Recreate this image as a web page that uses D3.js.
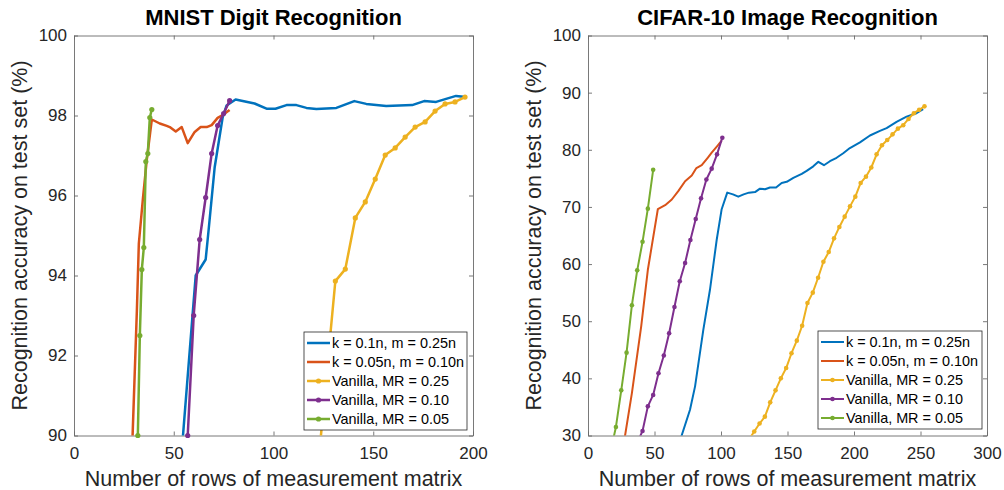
<!DOCTYPE html>
<html>
<head>
<meta charset="utf-8">
<script src="https://cdn.jsdelivr.net/npm/d3@7"></script>
<style>
  body { margin: 0; background: #fff; }
  svg { font-family: 'Liberation Sans', Arial, sans-serif; }
</style>
</head>
<body>
<div id="chart"></div>
<script>
// ---- data ----
let legendLabels = ['k = 0.1n, m = 0.25n', 'k = 0.05n, m = 0.10n', 'Vanilla, MR = 0.25', 'Vanilla, MR = 0.10', 'Vanilla, MR = 0.05']
let colors = ['#0072BD', '#D95319', '#EDB120', '#7E2F8E', '#77AC30']
let hasMarker = [false, false, true, true, true]

// MNIST
let mnistBlueX = [54, 61, 66, 67.5, 70.5, 74.5, 76.5, 81, 90.5, 96.5, 101, 106.5, 111.5, 116.5, 121.5, 131.5, 140.5, 146.5, 156.5, 169.5, 175.5, 181.5, 191.5, 196.5]
let mnistBlueY = [89.6, 94.0, 94.4, 95.15, 96.7, 97.95, 98.25, 98.4, 98.3, 98.17, 98.17, 98.26, 98.26, 98.19, 98.16, 98.19, 98.36, 98.29, 98.24, 98.26, 98.36, 98.34, 98.49, 98.46]
let mnistOrangeX = [29.3, 31.5, 32.5, 34.5, 36.5, 39, 43, 46.5, 48, 51, 54, 57, 60.5, 63.5, 66.5, 69, 72, 74.5, 78]
let mnistOrangeY = [89.9, 93.1, 94.8, 95.9, 96.9, 97.9, 97.8, 97.74, 97.71, 97.6, 97.71, 97.31, 97.59, 97.71, 97.71, 97.76, 97.94, 98.01, 98.14]
let mnistYellowX = [121, 126, 131, 136, 141, 146, 151, 156, 161, 166, 171, 176, 181, 186, 191, 196]
let mnistYellowY = [88.5, 91.2, 93.86, 94.16, 95.44, 95.84, 96.41, 97.01, 97.19, 97.46, 97.71, 97.84, 98.11, 98.29, 98.34, 98.46]
let mnistPurpleX = [57, 60, 63, 66, 69, 72, 75, 78]
let mnistPurpleY = [90.0, 93.0, 94.9, 95.95, 97.05, 97.75, 98.05, 98.37]
let mnistGreenX = [32, 33, 34, 35, 36, 37, 38, 39]
let mnistGreenY = [90.0, 92.5, 94.15, 94.7, 96.85, 97.05, 97.95, 98.15]

// CIFAR-10
let cifarBlueX = [70, 76.7, 80.5, 86.7, 91.7, 96.8, 100.5, 104.7, 109, 113, 117, 121, 125.6, 129.3, 133.1, 136.8, 141.4, 145.6, 149.4, 154.4, 160.7, 164.4, 169.4, 173.2, 177.4, 181.9, 186.9, 191.9, 196.9, 204.5, 212, 219.5, 224.5, 232, 239.5, 247, 252]
let cifarBlueY = [29.7, 34.5, 38.6, 48.5, 55.5, 64.3, 69.6, 72.5, 72.2, 71.8, 72.2, 72.5, 72.6, 73.2, 73.1, 73.4, 73.4, 74.2, 74.4, 75.1, 75.8, 76.3, 77.1, 77.9, 77.3, 78.0, 78.6, 79.4, 80.3, 81.3, 82.5, 83.3, 83.8, 84.9, 85.8, 86.4, 87.1]
let cifarOrangeX = [26, 33, 40, 45, 52.5, 58, 63, 68, 73, 78, 81.5, 85.5, 90, 93, 97, 100.5]
let cifarOrangeY = [27.3, 37.4, 49.1, 59.0, 69.6, 70.3, 71.3, 72.8, 74.5, 75.5, 76.8, 77.3, 78.6, 79.5, 80.6, 81.6]
let cifarYellowX = [121, 125, 129, 133, 137, 141, 145, 149, 153, 157, 161, 165, 169, 173, 177, 181, 185, 189, 193, 197, 201, 205, 209, 213, 217, 221, 225, 229, 233, 237, 241, 245, 249, 253]
let cifarYellowY = [29.3, 30.7, 32.1, 33.3, 35.8, 37.9, 40.0, 41.8, 44.4, 46.6, 49.2, 53.2, 55.0, 57.6, 60.4, 62.1, 64.5, 66.5, 68.3, 70.1, 71.8, 74.2, 75.3, 76.9, 79.2, 80.8, 81.7, 82.7, 83.7, 84.3, 85.4, 86.4, 87.0, 87.6]
let cifarPurpleX = [37, 41, 45, 49, 53, 57, 61, 65, 69, 73, 77, 81, 85, 89, 93, 97, 101]
let cifarPurpleY = [28.7, 30.8, 35.1, 37.1, 40.9, 44.0, 47.9, 52.5, 57.0, 60.2, 64.2, 67.9, 71.5, 74.8, 76.7, 79.2, 82.1]
let cifarGreenX = [17, 21, 25, 29, 33, 37, 41, 45, 49]
let cifarGreenY = [27.2, 31.5, 37.9, 44.5, 52.8, 58.9, 63.9, 69.7, 76.5]

let mnistXTicks = [0, 50, 100, 150, 200]
let mnistYTicks = [90, 92, 94, 96, 98, 100]
let cifarXTicks = [0, 50, 100, 150, 200, 250, 300]
let cifarYTicks = [30, 40, 50, 60, 70, 80, 90, 100]

let xLabel = 'Number of rows of measurement matrix'
let yLabel = 'Recognition accuracy on test set (%)'

let width = 1004
let height = 490

let svg = d3
  .select('#chart')
  .append('svg')
  .attr('width', width)
  .attr('height', height)

function drawPanel(opts) {
  let x = d3.scaleLinear().domain(opts.xDomain).range([opts.left, opts.right])
  let y = d3.scaleLinear().domain(opts.yDomain).range([opts.bottom, opts.top])
  let g = svg.append('g')

  g.append('clipPath')
    .attr('id', opts.id + '-clip')
    .append('rect')
    .attr('x', opts.left)
    .attr('y', opts.top)
    .attr('width', opts.right - opts.left)
    .attr('height', opts.bottom - opts.top)

  // axes box with inward ticks on all four sides
  let axisColor = '#6a6a6a'
  let tl = 4
  let ax = g.append('g').attr('class', 'axes')
  ax.append('g')
    .attr('transform', 'translate(0,' + opts.bottom + ')')
    .call(d3.axisBottom(x).tickValues(opts.xTicks).tickSizeInner(-tl).tickSizeOuter(0).tickPadding(11).tickFormat(d3.format('d')))
  ax.append('g')
    .attr('transform', 'translate(0,' + opts.top + ')')
    .call(d3.axisTop(x).tickValues(opts.xTicks).tickSizeInner(-tl).tickSizeOuter(0).tickFormat(''))
  ax.append('g')
    .attr('transform', 'translate(' + opts.left + ',0)')
    .call(d3.axisLeft(y).tickValues(opts.yTicks).tickSizeInner(-tl).tickSizeOuter(0).tickPadding(7).tickFormat(d3.format('d')))
  ax.append('g')
    .attr('transform', 'translate(' + opts.right + ',0)')
    .call(d3.axisRight(y).tickValues(opts.yTicks).tickSizeInner(-tl).tickSizeOuter(0).tickFormat(''))
  ax.selectAll('.domain').attr('stroke', axisColor).attr('stroke-width', 0.9)
  ax.selectAll('.tick line').attr('stroke', axisColor).attr('stroke-width', 0.9)
  ax.selectAll('.tick text')
    .attr('fill', '#262626')
    .style('font-size', '17px')
    .style('font-family', "'Liberation Sans', Arial, sans-serif")

  // series
  let line = d3.line().x(d => x(d[0])).y(d => y(d[1]))
  opts.series.forEach((s, i) => {
    let pts = s.xs.map((v, j) => [v, s.ys[j]])
    g.append('path')
      .datum(pts)
      .attr('d', line)
      .attr('clip-path', 'url(#' + opts.id + '-clip)')
      .attr('fill', 'none')
      .attr('stroke', colors[i])
      .attr('stroke-width', opts.lineWidth)
      .attr('stroke-linejoin', 'round')
    if (hasMarker[i]) {
      g.selectAll('.m' + i)
        .data(pts.filter(d => d[1] >= opts.yDomain[0] - 0.001))
        .enter()
        .append('circle')
        .attr('class', 'm' + i)
        .attr('cx', d => x(d[0]))
        .attr('cy', d => y(d[1]))
        .attr('r', opts.markerR)
        .attr('fill', colors[i])
    }
  })

  // title and labels
  g.append('text')
    .attr('x', (opts.left + opts.right) / 2)
    .attr('y', 25)
    .attr('text-anchor', 'middle')
    .style('font-size', '22px')
    .style('font-weight', 'bold')
    .text(opts.title)

  g.append('text')
    .attr('x', (opts.left + opts.right) / 2)
    .attr('y', 486)
    .attr('text-anchor', 'middle')
    .attr('fill', '#262626')
    .style('font-size', '21.5px')
    .text(xLabel)

  g.append('text')
    .attr('transform', 'translate(' + (opts.left - 47) + ',' + (opts.top + opts.bottom) / 2 + ') rotate(-90)')
    .attr('text-anchor', 'middle')
    .attr('fill', '#262626')
    .style('font-size', '21.5px')
    .text(yLabel)

  // legend
  let lg = g.append('g').attr('transform', 'translate(' + opts.legend[0] + ',' + opts.legend[1] + ')')
  lg.append('rect')
    .attr('x', 0)
    .attr('y', 0)
    .attr('width', opts.legendW)
    .attr('height', 98)
    .attr('fill', '#fff')
    .attr('stroke', '#262626')
    .attr('stroke-width', 0.8)
  legendLabels.forEach((lab, i) => {
    let ly = 11 + i * 19
    lg.append('line')
      .attr('x1', 3)
      .attr('x2', 26)
      .attr('y1', ly)
      .attr('y2', ly)
      .attr('stroke', colors[i])
      .attr('stroke-width', opts.lineWidth)
    if (hasMarker[i]) {
      lg.append('circle').attr('cx', 14.5).attr('cy', ly).attr('r', opts.markerR).attr('fill', colors[i])
    }
    lg.append('text')
      .attr('x', 28)
      .attr('y', ly + 5)
      .attr('fill', '#000')
      .style('font-size', '14.4px')
      .text(lab)
  })
}

drawPanel({
  id: 'mnist',
  title: 'MNIST Digit Recognition',
  left: 74, right: 473, top: 35.5, bottom: 435.5,
  xDomain: [0, 200], yDomain: [90, 100],
  xTicks: mnistXTicks, yTicks: mnistYTicks,
  lineWidth: 2.5, markerR: 2.6,
  legend: [304, 332], legendW: 163,
  series: [
    { xs: mnistBlueX, ys: mnistBlueY },
    { xs: mnistOrangeX, ys: mnistOrangeY },
    { xs: mnistYellowX, ys: mnistYellowY },
    { xs: mnistPurpleX, ys: mnistPurpleY },
    { xs: mnistGreenX, ys: mnistGreenY }
  ]
})

drawPanel({
  id: 'cifar',
  title: 'CIFAR-10 Image Recognition',
  left: 588, right: 987, top: 35.5, bottom: 435.5,
  xDomain: [0, 300], yDomain: [30, 100],
  xTicks: cifarXTicks, yTicks: cifarYTicks,
  lineWidth: 2, markerR: 2.3,
  legend: [818, 331], legendW: 164,
  series: [
    { xs: cifarBlueX, ys: cifarBlueY },
    { xs: cifarOrangeX, ys: cifarOrangeY },
    { xs: cifarYellowX, ys: cifarYellowY },
    { xs: cifarPurpleX, ys: cifarPurpleY },
    { xs: cifarGreenX, ys: cifarGreenY }
  ]
})
</script>
</body>
</html>
